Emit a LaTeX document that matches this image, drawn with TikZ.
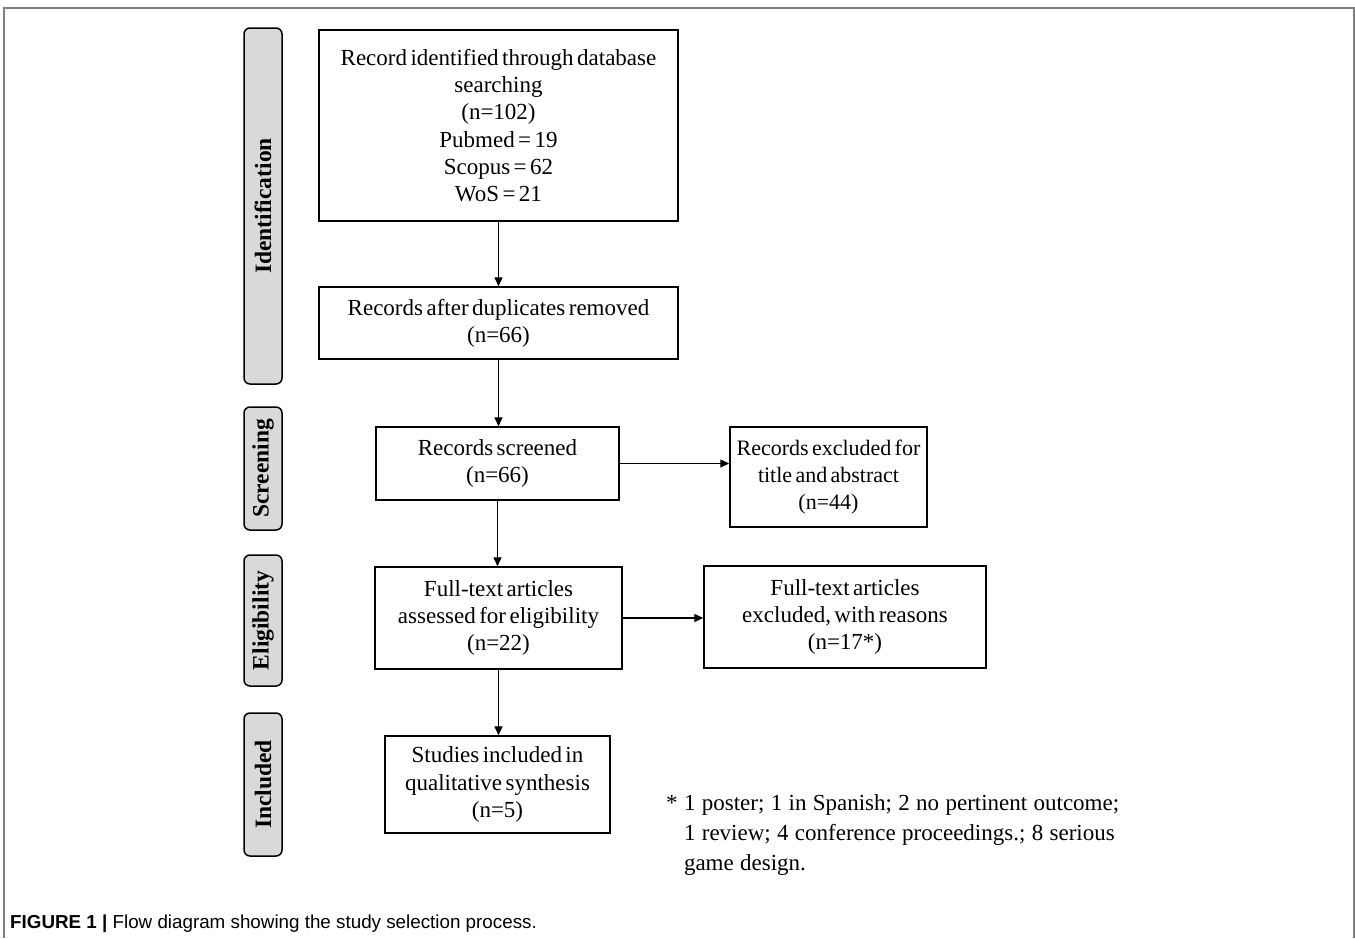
\documentclass[tikz,border=0pt]{standalone}
\usepackage{fontspec}
\setmainfont{Liberation Serif}[WordSpace=0.6]
\newfontfamily\fnfont{Liberation Serif}[WordSpace=1.1]
\newfontfamily\capfont{Liberation Sans}
\usetikzlibrary{arrows.meta}
\tikzset{
  box/.style={draw=black, line width=1.4pt, fill=white, align=center, inner sep=0pt,
    font=\fontsize{23}{27.3}\selectfont},
  stage/.style={draw=black, line width=1.5pt, fill=black!15, rounded corners=6pt,
    minimum width=38pt, inner sep=0pt},
  stagetext/.style={rotate=90, font=\bfseries\fontsize{23.5}{25}\selectfont},
  flow/.style={line width=1.3pt, -{Triangle[length=9pt,width=8pt]}},
}
\begin{document}
\begin{tikzpicture}[x=1pt,y=-1pt]
\useasboundingbox (0,0) rectangle (1355,938);
% outer frame
\draw[line width=1.5pt, black!50] (4,938) -- (4,8) -- (1354,8) -- (1354,938);
% stage bars
\node[stage, minimum height=356pt] (sid) at (263,206) {};
\node[stagetext] (tid) at (sid.center) {Identification};
\node[stage, minimum height=123pt] (ssc) at (263,468.5) {};
\node[stagetext] (tsc) at (ssc.center) {Screening};
\node[stage, minimum height=131pt] (sel) at (263,620.5) {};
\node[stagetext] (tel) at (sel.center) {Eligibility};
\node[stage, minimum height=143pt] (sin) at (263,784.5) {};
\node[stagetext] (tin) at (sin.center) {Included};
% boxes
\node[box, minimum width=359pt, minimum height=191pt] (b1) at (498.5,125.5)
  {Record identified through database\\ searching\\ (n=102)\\ Pubmed = 19\\ Scopus = 62\\ WoS = 21};
\node[box, minimum width=359pt, minimum height=72pt] (b2) at (498.5,323)
  {Records after duplicates removed\\ (n=66)};
\node[box, minimum width=243pt, minimum height=73pt] (b3) at (497.5,463.5)
  {Records screened\\ (n=66)};
\node[box, minimum width=197pt, minimum height=100pt, font=\fontsize{22}{27.3}\selectfont] (b4) at (828.5,477)
  {Records excluded for\\ title and abstract\\ (n=44)};
\node[box, minimum width=247pt, minimum height=102pt] (b5) at (498.5,618)
  {Full-text articles\\ assessed for eligibility\\ (n=22)};
\node[box, minimum width=282pt, minimum height=102pt] (b6) at (845,617)
  {Full-text articles\\ excluded, with reasons\\ (n=17*)};
\node[box, minimum width=225pt, minimum height=97pt] (b7) at (497.5,784.5)
  {Studies included in\\ qualitative synthesis\\ (n=5)};
% connectors
\draw[flow] (b1.south -| b2.north) -- (b2.north);
\draw[flow] (b2.south) -- (b2.south |- b3.north);
\draw[flow] (b3.south) -- (b3.south |- b5.north);
\draw[flow] (b5.south) -- (b5.south |- b7.north);
\draw[flow] (b3.east) -- (b3.east -| b4.west);
\draw[flow] (b5.east) -- (b5.east -| b6.west);
% footnote
\node[anchor=north west, align=left, inner sep=0pt, font=\fnfont\fontsize{23}{30}\selectfont] (fn) at (666,794)
  {* 1 poster; 1 in Spanish; 2 no pertinent outcome;\\
   \hphantom{* }1 review; 4 conference proceedings.; 8 serious\\
   \hphantom{* }game design.};
% caption
\node[anchor=base west, inner sep=0pt, font=\capfont\fontsize{18.8}{20}\selectfont] (cap) at (10,928)
  {\textbf{FIGURE 1 |} Flow diagram showing the study selection process.};
\end{tikzpicture}
\end{document}
